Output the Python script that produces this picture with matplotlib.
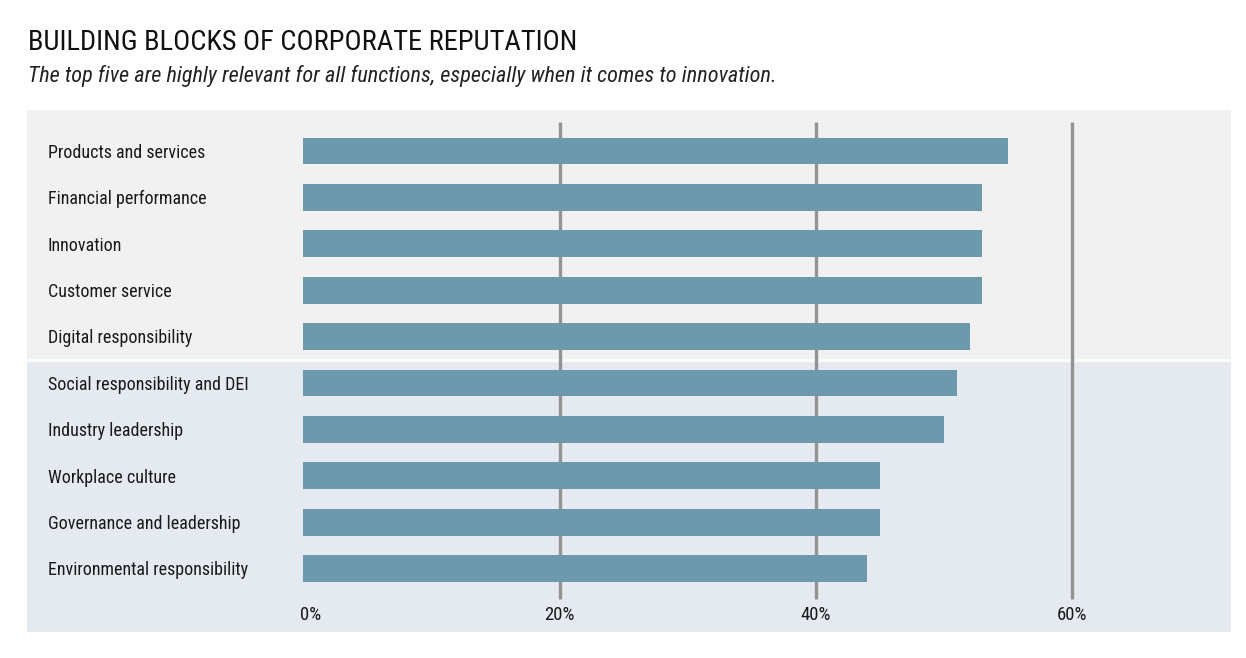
import matplotlib
matplotlib.use("Agg")
import matplotlib.pyplot as plt
from matplotlib import font_manager

W, H = 1246, 658

categories = [
    "Products and services",
    "Financial performance",
    "Innovation",
    "Customer service",
    "Digital responsibility",
    "Social responsibility and DEI",
    "Industry leadership",
    "Workplace culture",
    "Governance and leadership",
    "Environmental responsibility",
]
values = [55, 53, 53, 53, 52, 51, 50, 45, 45, 44]
ticks = [0, 20, 40, 60]
tick_labels = ["0%", "20%", "40%", "60%"]

title = "BUILDING BLOCKS OF CORPORATE REPUTATION"
subtitle = "The top five are highly relevant for all functions, especially when it comes to innovation."

# pick a narrow font if one is installed
installed = {f.name for f in font_manager.fontManager.ttflist}
FONT = "DejaVu Sans"
for name in ["Roboto Condensed", "Liberation Sans Narrow", "DejaVu Sans Condensed"]:
    if name in installed:
        FONT = name
        break
plt.rcParams["font.family"] = [FONT, "DejaVu Sans"]

BAR = "#6e99ad"
TOP_BG = "#f1f1f1"
BOTTOM_BG = "#e5eaf1"
GRID = "#939393"

fig = plt.figure(figsize=(W / 100, H / 100), dpi=100)
fig.patch.set_facecolor("white")

# axes span the whole shaded panel
left, right, top, bottom = 27, 1231, 110, 632
ax = fig.add_axes([left / W, 1 - bottom / H, (right - left) / W, (bottom - top) / H])
x0_px, px_per = 303.3, 12.815
ax.set_xlim((left - x0_px) / px_per, (right - x0_px) / px_per)
y0_px, row_px = 151, 46.4
ax.set_ylim((bottom - y0_px) / row_px, (top - y0_px) / row_px)
ax.axis("off")

n = len(categories)
ax.axhspan(-5, 4.5, color=TOP_BG, zorder=0)
ax.axhspan(4.5, 20, color=BOTTOM_BG, zorder=0)
ax.axhline(4.5, color="white", lw=2, zorder=1)

for t in ticks[1:]:
    ax.plot([t, t], [-0.63, 9.65], color=GRID, lw=2.4, zorder=2, solid_capstyle="butt")

ys = list(range(n))
ax.barh(ys, values, height=0.58, color=BAR, zorder=3)

label_x = (48 - x0_px) / px_per
for y, c in zip(ys, categories):
    ax.text(label_x, y + 0.04, c, ha="left", va="center", fontsize=13, color="#1a1a1a")

for t, lab in zip(ticks, tick_labels):
    xt = t + (0.6 if t == 0 else 0)
    ax.text(xt, 10.0, lab, ha="center", va="center", fontsize=13.5, color="#1a1a1a")

fig.text(28 / W, 1 - 42 / H, title, ha="left", va="center", fontsize=20.5, color="#111111")
fig.text(28 / W, 1 - 76 / H, subtitle, ha="left", va="center", fontsize=16,
         style="italic", color="#222222")

fig.savefig("out.png", dpi=100, facecolor="white")
